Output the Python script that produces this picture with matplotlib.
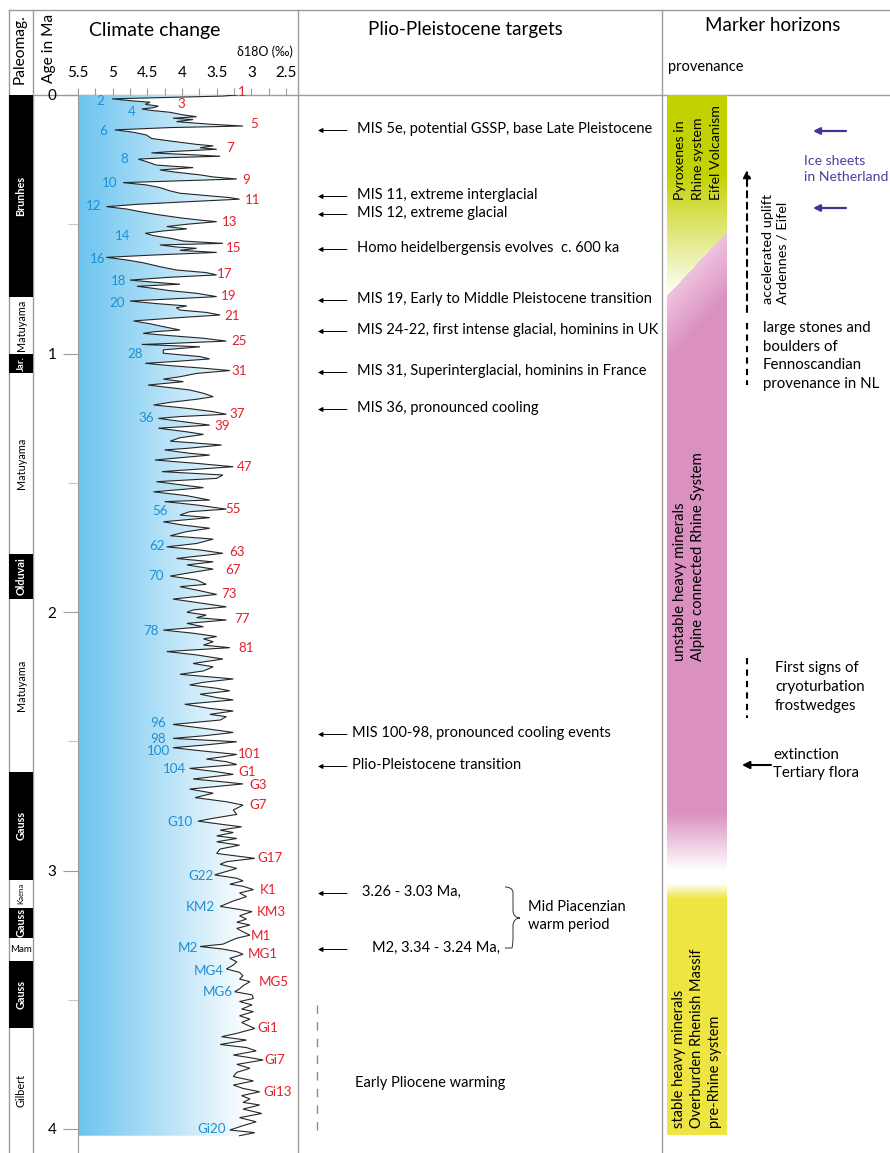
import numpy as np
import matplotlib
matplotlib.use("Agg")
import matplotlib.pyplot as plt
from matplotlib.colors import LinearSegmentedColormap, to_rgb
from matplotlib.path import Path
from matplotlib.patches import PathPatch

plt.rcParams['font.family'] = ['Lato', 'DejaVu Sans']

# ------------------------------------------------------------------ data
age_ma = [
    0.000, 0.004, 0.015, 0.023, 0.028, 0.036, 0.043, 0.049, 0.054, 0.059, 0.067, 0.077, 0.084, 0.090,
    0.095, 0.103, 0.113, 0.120, 0.126, 0.135, 0.144, 0.155, 0.168, 0.178, 0.191, 0.197, 0.204, 0.210,
    0.219, 0.224, 0.232, 0.237, 0.242, 0.248, 0.258, 0.271, 0.281, 0.290, 0.299, 0.309, 0.317, 0.325,
    0.333, 0.339, 0.348, 0.358, 0.371, 0.380, 0.390, 0.397, 0.403, 0.413, 0.423, 0.432, 0.441, 0.451,
    0.462, 0.475, 0.484, 0.490, 0.500, 0.509, 0.518, 0.526, 0.535, 0.544, 0.554, 0.565, 0.574, 0.580,
    0.588, 0.593, 0.601, 0.609, 0.619, 0.628, 0.638, 0.649, 0.664, 0.677, 0.687, 0.696, 0.705, 0.716,
    0.725, 0.732, 0.740, 0.748, 0.757, 0.767, 0.780, 0.789, 0.797, 0.807, 0.816, 0.823, 0.832, 0.841,
    0.851, 0.861, 0.874, 0.885, 0.896, 0.909, 0.916, 0.922, 0.931, 0.941, 0.952, 0.961, 0.965, 0.974,
    0.986, 0.999, 1.012, 1.021, 1.032, 1.038, 1.047, 1.057, 1.066, 1.077, 1.090, 1.099, 1.109, 1.122,
    1.132, 1.141, 1.154, 1.167, 1.177, 1.189, 1.199, 1.212, 1.225, 1.235, 1.244, 1.251, 1.264, 1.277,
    1.289, 1.303, 1.313, 1.326, 1.339, 1.354, 1.367, 1.373, 1.386, 1.393, 1.412, 1.425, 1.438, 1.457,
    1.470, 1.483, 1.496, 1.509, 1.519, 1.535, 1.550, 1.567, 1.573, 1.586, 1.602, 1.612, 1.625, 1.635,
    1.651, 1.664, 1.676, 1.689, 1.705, 1.718, 1.735, 1.748, 1.760, 1.773, 1.793, 1.806, 1.818, 1.834,
    1.844, 1.861, 1.876, 1.893, 1.902, 1.915, 1.932, 1.950, 1.963, 1.980, 1.992, 2.001, 2.012, 2.022,
    2.031, 2.044, 2.057, 2.070, 2.082, 2.095, 2.104, 2.115, 2.128, 2.138, 2.153, 2.166, 2.182, 2.199,
    2.212, 2.228, 2.241, 2.259, 2.272, 2.282, 2.295, 2.305, 2.318, 2.331, 2.340, 2.357, 2.373, 2.383,
    2.396, 2.405, 2.418, 2.435, 2.450, 2.466, 2.479, 2.489, 2.502, 2.515, 2.525, 2.538, 2.551, 2.560,
    2.569, 2.579, 2.590, 2.605, 2.618, 2.628, 2.646, 2.656, 2.665, 2.685, 2.701, 2.718, 2.734, 2.747,
    2.766, 2.783, 2.798, 2.809, 2.822, 2.831, 2.844, 2.853, 2.866, 2.876, 2.889, 2.902, 2.917, 2.934,
    2.953, 2.966, 2.976, 2.992, 3.017, 3.030, 3.040, 3.053, 3.061, 3.074, 3.087, 3.101, 3.118, 3.139,
    3.149, 3.159, 3.175, 3.188, 3.200, 3.211, 3.224, 3.237, 3.250, 3.262, 3.273, 3.285, 3.294, 3.304,
    3.314, 3.324, 3.340, 3.353, 3.366, 3.381, 3.394, 3.407, 3.420, 3.430, 3.446, 3.458, 3.469, 3.481,
    3.495, 3.507, 3.520, 3.536, 3.546, 3.562, 3.575, 3.588, 3.611, 3.630, 3.643, 3.656, 3.673, 3.685,
    3.698, 3.714, 3.724, 3.733, 3.750, 3.765, 3.781, 3.797, 3.814, 3.830, 3.843, 3.856, 3.871, 3.884,
    3.897, 3.907, 3.923, 3.940, 3.956, 3.972, 3.987, 4.004, 4.014, 4.026,
]
d18o = [
    3.21, 3.41, 5.01, 4.70, 4.46, 4.53, 4.34, 4.41, 4.58, 4.46, 4.17, 3.98, 3.79, 4.13,
    3.84, 4.08, 3.60, 3.12, 4.17, 4.97, 4.70, 4.51, 4.44, 4.17, 3.79, 3.55, 3.74, 3.50,
    4.17, 4.44, 3.79, 3.45, 4.17, 4.63, 4.51, 4.37, 3.84, 4.32, 4.08, 3.74, 3.55, 3.21,
    4.17, 4.85, 4.51, 4.32, 4.17, 4.03, 3.60, 3.31, 3.17, 3.93, 4.65, 5.09, 4.80, 4.61,
    4.37, 4.03, 3.74, 3.50, 3.93, 4.22, 3.93, 4.27, 4.53, 4.41, 4.17, 3.98, 3.41, 4.32,
    4.08, 3.79, 4.03, 3.50, 4.41, 5.09, 4.80, 4.56, 4.32, 4.08, 3.65, 3.50, 4.17, 4.75,
    4.37, 4.03, 4.65, 4.41, 4.17, 3.79, 3.50, 4.17, 4.75, 4.37, 3.93, 4.08, 4.03, 3.65,
    3.45, 4.03, 4.70, 4.46, 4.27, 4.03, 4.41, 4.56, 4.17, 3.69, 3.36, 4.17, 4.58, 3.74,
    4.27, 4.27, 3.74, 3.60, 4.17, 4.53, 4.17, 3.69, 3.31, 3.79, 4.03, 4.27, 3.98, 4.49,
    4.17, 3.89, 3.69, 3.55, 3.79, 4.17, 4.41, 3.93, 3.55, 3.36, 4.03, 4.34, 3.98, 3.60,
    4.34, 3.93, 3.69, 4.03, 4.17, 3.43, 3.93, 4.25, 3.89, 3.60, 4.39, 3.79, 3.26, 4.29,
    3.41, 3.50, 4.37, 3.98, 3.69, 4.41, 3.93, 3.60, 4.25, 3.79, 3.36, 3.89, 4.03, 3.60,
    4.27, 3.98, 3.60, 3.93, 4.17, 3.55, 3.79, 4.22, 3.74, 3.41, 4.08, 3.55, 3.93, 3.55,
    3.79, 4.17, 3.79, 3.65, 4.03, 3.79, 3.50, 4.13, 3.79, 3.36, 3.84, 3.93, 3.65, 3.79,
    3.36, 3.93, 3.69, 4.27, 3.84, 3.50, 3.69, 3.55, 3.69, 3.31, 4.22, 3.79, 3.41, 3.84,
    3.55, 3.69, 4.03, 3.26, 3.69, 3.89, 3.50, 3.31, 3.74, 3.50, 3.26, 3.96, 3.60, 3.26,
    3.60, 3.36, 3.45, 4.13, 3.69, 3.26, 3.69, 4.13, 3.21, 3.69, 4.13, 3.69, 3.21, 3.41,
    3.65, 3.36, 3.21, 3.89, 3.50, 3.26, 3.84, 3.45, 3.12, 3.89, 3.55, 3.81, 3.36, 3.12,
    3.26, 3.21, 3.55, 3.77, 3.41, 3.14, 3.45, 3.26, 3.50, 3.21, 3.50, 3.17, 3.45, 3.50,
    2.95, 3.36, 3.45, 3.21, 3.53, 3.21, 3.12, 3.31, 3.12, 2.97, 3.17, 3.07, 3.26, 3.45,
    3.21, 2.99, 3.17, 3.07, 3.21, 3.02, 3.21, 3.12, 3.02, 3.21, 3.31, 3.41, 3.74, 3.41,
    3.21, 3.12, 3.31, 3.21, 3.26, 3.36, 3.17, 3.12, 3.17, 3.02, 3.12, 3.17, 3.24, 2.99,
    2.97, 3.17, 2.99, 3.14, 2.97, 3.17, 3.02, 3.14, 2.95, 3.21, 3.43, 3.07, 3.45, 3.07,
    2.93, 3.26, 3.02, 2.83, 3.21, 3.02, 3.21, 3.26, 2.97, 3.26, 3.12, 2.88, 3.14, 3.02,
    3.12, 2.88, 3.12, 2.85, 3.17, 2.93, 3.12, 3.31, 2.95, 3.17,
]

# marine isotope stage labels: glacial (blue) and interglacial (red)
glacial_names = ["2", "4", "6", "8", "10", "12", "14", "16", "18", "20", "28", "36", "56", "62",
                 "70", "78", "96", "98", "100", "104", "G10", "G22", "KM2", "M2", "MG4", "MG6", "Gi20"]
glacial_age = [0.023, 0.067, 0.138, 0.248, 0.342, 0.428, 0.544, 0.634, 0.720, 0.803, 1.003, 1.248,
               1.609, 1.744, 1.860, 2.072, 2.431, 2.492, 2.538, 2.608, 2.811, 3.021, 3.140, 3.299,
               3.388, 3.469, 4.000]
glacial_d18o = [5.18, 4.73, 5.14, 4.83, 5.05, 5.28, 4.85, 5.21, 4.92, 4.93, 4.67, 4.52, 4.31, 4.36,
                4.37, 4.45, 4.34, 4.34, 4.34, 4.11, 4.03, 3.73, 3.74, 3.92, 3.62, 3.48, 3.57]

inter_names = ["1", "3", "5", "7", "9", "11", "13", "15", "17", "19", "21", "25", "31", "37", "39",
               "47", "55", "63", "67", "73", "77", "81", "101", "G1", "G3", "G7", "G17", "K1", "KM3",
               "M1", "MG1", "MG5", "Gi1", "Gi7", "Gi13"]
inter_age = [-0.010, 0.035, 0.113, 0.204, 0.329, 0.406, 0.490, 0.593, 0.694, 0.778, 0.854, 0.950,
             1.068, 1.235, 1.279, 1.440, 1.603, 1.767, 1.838, 1.929, 2.027, 2.138, 2.549, 2.618,
             2.669, 2.747, 2.953, 3.075, 3.159, 3.253, 3.324, 3.432, 3.610, 3.733, 3.856]
inter_d18o = [3.14, 4.01, 2.96, 3.31, 3.07, 2.98, 3.32, 3.26, 3.38, 3.33, 3.28, 3.17, 3.17, 3.20,
              3.42, 3.09, 3.26, 3.20, 3.27, 3.32, 3.13, 3.08, 3.02, 3.06, 2.90, 2.90, 2.73, 2.76,
              2.71, 2.86, 2.84, 2.67, 2.76, 2.66, 2.62]

# geomagnetic polarity time scale
chron_bounds = [0.0, 0.78, 1.0, 1.075, 1.775, 1.95, 2.62, 3.035, 3.145, 3.26, 3.35, 3.61, 4.2]
chron_normal = [True, False, True, False, True, False, True, False, True, False, True, False]
chron_names = ["Brunhes", "Matuyama", "Jar.", "Matuyama", "Olduvai", "Matuyama", "Gauss",
               "Kaena", "Gauss", "Mam", "Gauss", "Gilbert"]

d18o_ticks = [5.5, 5, 4.5, 4, 3.5, 3, 2.5]
d18o_ticklabels = ["5.5", "5", "4.5", "4", "3.5", "3", "2.5"]
age_ticks = [0, 1, 2, 3, 4]

target_texts = ["MIS 5e, potential GSSP, base Late Pleistocene", "MIS 11, extreme interglacial",
                "MIS 12, extreme glacial", "Homo heidelbergensis evolves  c. 600 ka",
                "MIS 19, Early to Middle Pleistocene transition",
                "MIS 24-22, first intense glacial, hominins in UK",
                "MIS 31, Superinterglacial, hominins in France", "MIS 36, pronounced cooling",
                "MIS 100-98, pronounced cooling events", "Plio-Pleistocene transition",
                "3.26 - 3.03 Ma,", "M2, 3.34 - 3.24 Ma,"]

# ------------------------------------------------------------------ layout
W, H = 890, 1153
fig = plt.figure(figsize=(W / 100, H / 100), dpi=100)
fig.patch.set_facecolor('white')


def px_axes(x0, y0, x1, y1):
    return fig.add_axes([x0 / W, 1 - y1 / H, (x1 - x0) / W, (y1 - y0) / H])


def overlay(z):
    o = px_axes(0, 0, W, H)
    o.set_xlim(0, W)
    o.set_ylim(H, 0)
    o.axis('off')
    o.patch.set_alpha(0)
    o.set_zorder(z)
    return o


Y0 = 95.0
PX_MA = 258.5
AGE_MAX = (H - Y0) / PX_MA
GRID = '#9b9b9b'
BLUE = '#1e8fd5'
RED = '#e5202a'
TXT = 10.5

# overlay (frame, headers, annotations) in pixel units
ov = overlay(0)
ov.plot([9, W], [10, 10], color=GRID, lw=1)
ov.plot([33, W], [94.5, 94.5], color=GRID, lw=1)
for xv in (9, 33, 298, 662):
    ov.plot([xv, xv], [10, H], color=GRID, lw=1)

ov.text(20, 49, "Paleomag.", rotation=90, ha='center', va='center', fontsize=11.2)
ov.text(49, 48, "Age in Ma", rotation=90, ha='center', va='center', fontsize=11.2)
ov.text(155, 36, "Climate change", ha='center', va='baseline', fontsize=14)
ov.text(265, 52, "δ18O (‰)", ha='center', va='center', fontsize=9)
ov.text(465, 35, "Plio-Pleistocene targets", ha='center', va='baseline', fontsize=13.5)
ov.text(773, 31, "Marker horizons", ha='center', va='baseline', fontsize=13.5)
ov.text(668, 67, "provenance", ha='left', va='center', fontsize=10.5)


def arrow(x0, x1, y0, y1, color='black', lw=0.7, ms=7, ls='-'):
    ov.annotate('', xy=(x1, y1), xytext=(x0, y0),
                arrowprops=dict(arrowstyle='-|>', color=color, lw=lw, mutation_scale=ms,
                                shrinkA=0, shrinkB=0, linestyle=ls))


# targets column
target_y = [129, 195, 213, 248, 299, 330, 371, 408, 733, 765, 892, 948]
target_x = [357] * 8 + [352, 352, 362, 372]
for t, ty, tx in zip(target_texts, target_y, target_x):
    arrow(347, 318, ty + 1.5, ty + 1.5)
    ov.text(tx, ty, t, ha='left', va='center', fontsize=TXT)

brace = Path([(505, 887), (512, 887), (513, 892), (513, 898), (513, 910),
              (513, 915), (516, 918), (520, 918),
              (516, 918), (513, 921), (513, 926), (513, 938),
              (513, 944), (512, 948), (505, 948)],
             [Path.MOVETO, Path.CURVE3, Path.CURVE3, Path.LINETO, Path.LINETO,
              Path.CURVE4, Path.CURVE4, Path.CURVE4,
              Path.CURVE4, Path.CURVE4, Path.CURVE4, Path.LINETO,
              Path.CURVE3, Path.CURVE3, Path.LINETO])
ov.add_patch(PathPatch(brace, fill=False, lw=0.7, color='#333333'))
ov.text(528, 916, "Mid Piacenzian\nwarm period", ha='left', va='center', fontsize=TXT,
        linespacing=1.4)
ov.plot([317, 317], [1005, 1135], color='#8a8a8a', lw=1, dashes=(6, 6))
ov.text(355, 1083, "Early Pliocene warming", ha='left', va='center', fontsize=TXT)

# marker horizons column annotations
ICE = '#3f3595'
arrow(846, 813, 131, 131, color=ICE, lw=1.6, ms=10)
arrow(846, 813, 208, 208, color=ICE, lw=1.6, ms=10)
ov.text(804, 169, "Ice sheets\nin Netherland", ha='left', va='center', fontsize=10.1,
        color='#4c3f9e', linespacing=1.45)
arrow(747, 747, 312, 170, lw=1.5, ms=11, ls=(0, (3, 2.5)))
ov.text(775, 304, "accelerated uplift\nArdennes / Eifel", rotation=90, ha='center', va='bottom',
        fontsize=10.4, linespacing=1.3, multialignment='left')
ov.plot([747, 747], [323, 385], color='black', lw=1.5, dashes=(3, 2.5))
ov.text(763, 356, "large stones and\nboulders of\nFennoscandian\nprovenance in NL",
        ha='left', va='center', fontsize=10.8, linespacing=1.42)
ov.plot([747, 747], [658, 718], color='black', lw=1.5, dashes=(3, 2.5))
ov.text(775, 687, "First signs of\ncryoturbation\nfrostwedges", ha='left', va='center',
        fontsize=10.8, linespacing=1.42)
arrow(771, 742, 765, 765, lw=1.5, ms=11)
ov.text(773, 764, "extinction\nTertiary flora", ha='left', va='center', fontsize=10.8,
        linespacing=1.3)

# ------------------------------------------------------------------ paleomag column
pm = px_axes(9, Y0, 33, H)
pm.set_xlim(0, 1)
pm.set_ylim(AGE_MAX, 0)
pm.axis('off')
for i, name in enumerate(chron_names):
    a0, a1 = chron_bounds[i], min(chron_bounds[i + 1], AGE_MAX)
    normal = chron_normal[i]
    if normal:
        pm.axhspan(a0, a1, color='black', lw=0)
    mid = 0.5 * (a0 + a1)
    col = 'white' if normal else 'black'
    if name == "Mam":
        pm.text(0.5, mid, name, ha='center', va='center', fontsize=7, color=col)
    elif name == "Kaena":
        pm.text(0.5, mid, name, ha='center', va='center', fontsize=5.6, rotation=90, color=col)
    elif name == "Jar.":
        pm.text(0.5, mid, name, ha='center', va='center', fontsize=6.8, rotation=90, color=col,
                fontweight='bold')
    else:
        pm.text(0.5, mid, name, ha='center', va='center', fontsize=7.8, rotation=90, color=col,
                fontweight='bold' if normal else 'normal')

# ------------------------------------------------------------------ climate curve
ax = px_axes(78, Y0, 286, H)
ax.patch.set_alpha(0)
coll = ax.fill_betweenx(age_ma, 5.5, d18o, facecolor='none', edgecolor='none')
cmap = LinearSegmentedColormap.from_list('fill', [(0, '#6cc4ef'), (0.83, '#ffffff'), (1, '#ffffff')])
grad = np.linspace(0, 1, 400).reshape(1, -1)
im = ax.imshow(grad, extent=[5.5, 2.5, max(age_ma), 0], aspect='auto', cmap=cmap, zorder=1,
               interpolation='bilinear')
im.set_clip_path(coll.get_paths()[0], transform=ax.transData)
ax.plot(d18o, age_ma, color='#262626', lw=0.8, zorder=3, solid_joinstyle='miter')

ax.set_xlim(5.5, 2.5)
ax.set_ylim(AGE_MAX, 0)
for s in ('top', 'right', 'bottom'):
    ax.spines[s].set_visible(False)
ax.spines['left'].set_color(GRID)
ax.xaxis.tick_top()
ax.set_xticks(d18o_ticks)
ax.set_xticklabels(d18o_ticklabels)
ax.set_xticks(np.arange(2.5, 5.51, 0.25), minor=True)
ax.tick_params(axis='x', which='both', direction='out', length=5, width=0.8, color=GRID,
               labelsize=11, pad=6)
ax.set_yticks(age_ticks)
ax.set_yticks([0.5, 1.5, 2.5, 3.5], minor=True)
ax.tick_params(axis='y', which='major', length=10.5, width=0.8, color=GRID, labelsize=11, pad=5)
ax.tick_params(axis='y', which='minor', length=7, width=0.8, color='#c4c4c4')
ax.tick_params(axis='y', which='minor', labelleft=False)

for n, a, d in zip(glacial_names, glacial_age, glacial_d18o):
    ax.text(d, a, n, color=BLUE, fontsize=9.6, ha='center', va='center', clip_on=False, zorder=4)
for n, a, d in zip(inter_names, inter_age, inter_d18o):
    ax.text(d, a, n, color=RED, fontsize=9.6, ha='center', va='center', clip_on=False, zorder=4)

# ------------------------------------------------------------------ provenance band
GREEN = np.array(to_rgb('#c3d100'))
PINK = np.array(to_rgb('#db91c1'))
LPINK = np.array(to_rgb('#eec3df'))
YELLOW = np.array(to_rgb('#eee543'))
WHITE = np.ones(3)
GREEN_FADE = (0.30, 0.78)
DIAG_LEFT, DIAG_RIGHT = 0.774, 0.53
PINK_FADE = (2.78, 3.0)
YELLOW_IN = (3.05, 3.11)
BAND_END = 4.027

bar = px_axes(667, Y0, 727, H)
bar.axis('off')
bar.set_zorder(1)
nrow, ncol = 1058, 60
A = np.broadcast_to(np.linspace(0, AGE_MAX, nrow)[:, None], (nrow, ncol))
U = np.broadcast_to(np.linspace(0, 1, ncol)[None, :], (nrow, ncol))
diag = DIAG_LEFT + (DIAG_RIGHT - DIAG_LEFT) * U
tg = np.clip((A - GREEN_FADE[0]) / (GREEN_FADE[1] - GREEN_FADE[0]), 0, 1)[..., None]
g_col = GREEN * (1 - tg) + WHITE * tg
sp = np.clip((A - diag) / 0.25, 0, 1)[..., None]
p_col = LPINK * (1 - sp) + PINK * sp
fp = np.clip((A - PINK_FADE[0]) / (PINK_FADE[1] - PINK_FADE[0]), 0, 1)[..., None]
p_col = p_col * (1 - fp) + WHITE * fp
fy = np.clip((A - YELLOW_IN[0]) / (YELLOW_IN[1] - YELLOW_IN[0]), 0, 1)[..., None]
y_col = WHITE * (1 - fy) + YELLOW * fy
img = np.where((A < diag)[..., None], g_col, np.where((A < 3.03)[..., None], p_col, y_col))
img = np.where((A > BAND_END)[..., None], WHITE, img)
bar.imshow(img, extent=[0, 1, AGE_MAX, 0], aspect='auto', interpolation='bilinear')
bar.set_xlim(0, 1)
bar.set_ylim(AGE_MAX, 0)

top = overlay(5)
top.text(698, 200, "Pyroxenes in\nRhine system\nEifel Volcanism", rotation=90, ha='center',
         va='bottom', fontsize=10.2, linespacing=1.55, multialignment='left')
top.text(689, 661, "unstable heavy minerals\nAlpine connected Rhine System", rotation=90,
         ha='center', va='bottom', fontsize=10.8, linespacing=1.3, multialignment='left')
top.text(697, 1128, "stable heavy minerals\nOverburden Rhenish Massif\npre-Rhine system",
         rotation=90, ha='center', va='bottom', fontsize=10.5, linespacing=1.35,
         multialignment='left')

fig.savefig("out.png", dpi=100)
